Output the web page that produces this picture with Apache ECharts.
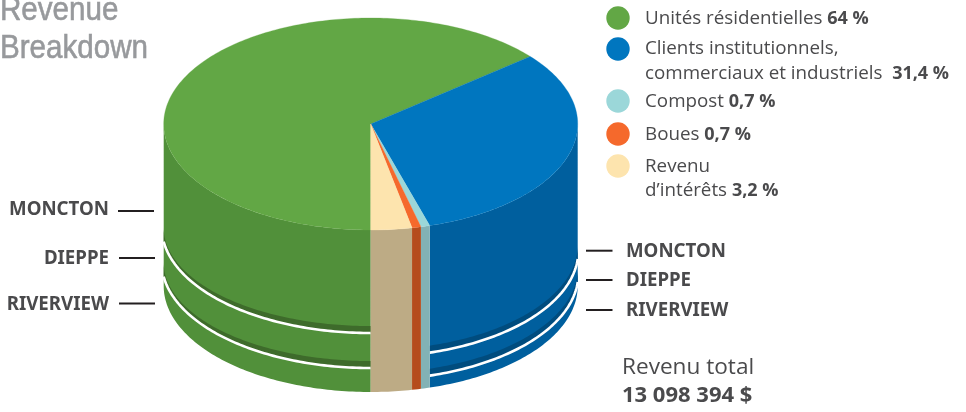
<!DOCTYPE html>
<html><head><meta charset="utf-8">
<style>html,body{margin:0;padding:0;background:#fff}#c{width:966px;height:412px}</style>
<script src="https://cdn.jsdelivr.net/npm/echarts@6/dist/echarts.min.js"></script>
</head><body><div id="c"></div>
<script>
// ---- data ----
const categories = ['Unités résidentielles','Clients institutionnels, commerciaux et industriels','Compost','Boues','Revenu d’intérêts'];
const shareValues = [64, 31.4, 0.7, 0.7, 3.2];
const shareLabels = ['64 %','31,4 %','0,7 %','0,7 %','3,2 %'];
const cities = ['MONCTON','DIEPPE','RIVERVIEW'];
const residentialCityShares = [63.6, 21.6, 14.8];
const institutionalCityShares = [78.4, 14.2, 7.4];
const totalLabel = 'Revenu total';
const totalValue = '13 098 394 $';
const titleLines = ['Revenue','Breakdown'];
const legendLines = [
  [['Unités résidentielles '],0],
  [['Clients institutionnels,'],null],
  [['commerciaux et industriels  '],1],
  [['Compost '],2],
  [['Boues '],3],
  [['Revenu'],null],
  [['d’intérêts '],4]
];
// ---- style / layout ----
const topColors  = ['#62a745','#0076bf','#9bd7d9','#f5692c','#fde4ae'];
const sideColors = ['#51903a','#005f9e','#82b2b5','#b54c1d','#bdab85'];
const darkColors = ['#3e6b2b','#004c7e',null,null,null];
const edgeRadius = [209,207.6,0,0,0];
const layerShares = [residentialCityShares, institutionalCityShares, null, null, null];
const CX=370.7, CY=124, RX=207, RY=106, H=162;
const TEXT='#4a4a4c';
const FONT='"Open Sans","Noto Sans",sans-serif';
const rad=d=>d*Math.PI/180;
const total=shareValues.reduce((a,b)=>a+b,0);
let acc=0;
const slices=shareValues.map((v,i)=>{const s=acc/total*360;acc+=v;return [i,s,acc/total*360];});
const px=a=>CX-RX*Math.sin(rad(a));
function range(a,b,step){const o=[];const n=Math.max(2,Math.ceil((b-a)/(step||1))+1);for(let i=0;i<n;i++)o.push(a+(b-a)*i/(n-1));return o;}
function visible(a,b){const o=[];if(a<90)o.push([a,Math.min(b,90)]);if(b>270)o.push([Math.max(a,270),b]);return o;}

function renderSide(params,api){
  const i=api.value(0),kids=[];
  visible(api.value(1),api.value(2)).forEach(([a,b])=>{
    const ang=range(a,b,1);
    const top=ang.map(t=>[px(t),CY+RY*Math.cos(rad(t))]);
    const bot=ang.map(t=>[px(t),CY+H+RY*Math.cos(rad(t))]);
    kids.push({type:'polygon',shape:{points:top.concat(bot.reverse())},style:{fill:sideColors[i]}});
    const ls=layerShares[i];
    if(ls){
      let cum=0;
      ls.slice(0,-1).forEach(s=>{
        cum+=s;
        const y0=CY+H*cum/100;
        const rb=edgeRadius[i];
        const curve=ang.map(t=>[px(t),y0+RY*Math.sqrt(Math.max(0,1-Math.pow(RX/rb*Math.sin(rad(t)),2)))]);
        const edgeDrop=RY*Math.sqrt(Math.max(0,1-Math.pow(RX/rb,2)));
        const tip=edgeDrop-14;
        const dark=ang.map(t=>[px(t),y0+tip+(RY-7-tip)*Math.cos(rad(t))]);
        kids.push({type:'polygon',shape:{points:dark.concat(curve.slice().reverse())},style:{fill:darkColors[i]}});
        kids.push({type:'polyline',shape:{points:curve},style:{stroke:'#fff',lineWidth:2.6,fill:null}});
      });
    }
  });
  return {type:'group',children:kids};
}
function renderTop(params,api){
  const i=api.value(0),a=api.value(1),b=api.value(2);
  const pts=[[CX,CY]].concat(range(a,b,1).map(t=>[px(t),CY+RY*Math.cos(rad(t))]));
  return {type:'polygon',shape:{points:pts},style:{fill:topColors[i],stroke:topColors[i],lineWidth:0.3}};
}

// ---- texts ----
const g=[];
function T(x,y,text,size,opt){opt=opt||{};g.push({type:'text',x:x,y:y,scaleX:opt.sx||1,silent:true,style:{
  text:text,x:0,y:0,fill:opt.fill||TEXT,fontFamily:opt.family||FONT,fontSize:size,fontWeight:opt.weight||'normal',
  stroke:opt.stroke,lineWidth:opt.stroke?0.6:0,
  align:opt.align||'left',verticalAlign:'middle',rich:opt.rich}});}
const TITLE_FONT='"Liberation Sans",sans-serif';
T(0,11,titleLines[0],34,{family:TITLE_FONT,fill:'#97999c',stroke:'#97999c',sx:0.87});
T(0,49,titleLines[1],34,{family:TITLE_FONT,fill:'#97999c',stroke:'#97999c',sx:0.87});
const LEG=18.8;
const legY=[19,49,74,102,135,167,191];
legendLines.forEach((l,n)=>{
  const idx=l[1];
  const txt='{n|'+l[0][0]+'}'+(idx===null?'':'{b|'+shareLabels[idx]+'}');
  T(645,legY[n],txt,LEG,{rich:{
    n:{fontFamily:FONT,fontSize:LEG,fill:TEXT,fontWeight:'normal'},
    b:{fontFamily:FONT,fontSize:LEG-0.8,fill:TEXT,fontWeight:'bold'}}});
});
[18,49,101,134,166].forEach((y,k)=>g.push({type:'circle',silent:true,shape:{cx:618,cy:y,r:11.7},style:{fill:topColors[k]}}));
const leftY=[210,259,305],leftLine=[[118,154,211],[119,155,258],[119,155,303.5]];
const rightY=[252,281,311],rightLine=[[586,612.5,250.7],[586,612.5,280],[586,612.5,310]];
cities.forEach((c,k)=>{
  T(109,leftY[k],c,18.7,{weight:'bold',align:'right',family:'"Noto Sans",sans-serif'});
  T(626,rightY[k],c,18.7,{weight:'bold',family:'"Noto Sans",sans-serif'});
  [leftLine[k],rightLine[k]].forEach(l=>g.push({type:'line',silent:true,shape:{x1:l[0],x2:l[1],y1:l[2],y2:l[2]},style:{stroke:'#231f20',lineWidth:2}}));
});
T(622,368,totalLabel,22.6,{});
T(622,396,totalValue,22,{weight:'bold'});

const chart=echarts.init(document.getElementById('c'),null,{renderer:'canvas'});
chart.setOption({
  animation:false,backgroundColor:'#fff',
  graphic:{elements:g},
  series:[
    {type:'custom',coordinateSystem:'none',name:'côtés',silent:true,z:1,encode:{},data:slices,renderItem:renderSide},
    {type:'custom',coordinateSystem:'none',name:'dessus',silent:true,z:2,encode:{},data:slices,renderItem:renderTop}
  ]
});
</script></body></html>
